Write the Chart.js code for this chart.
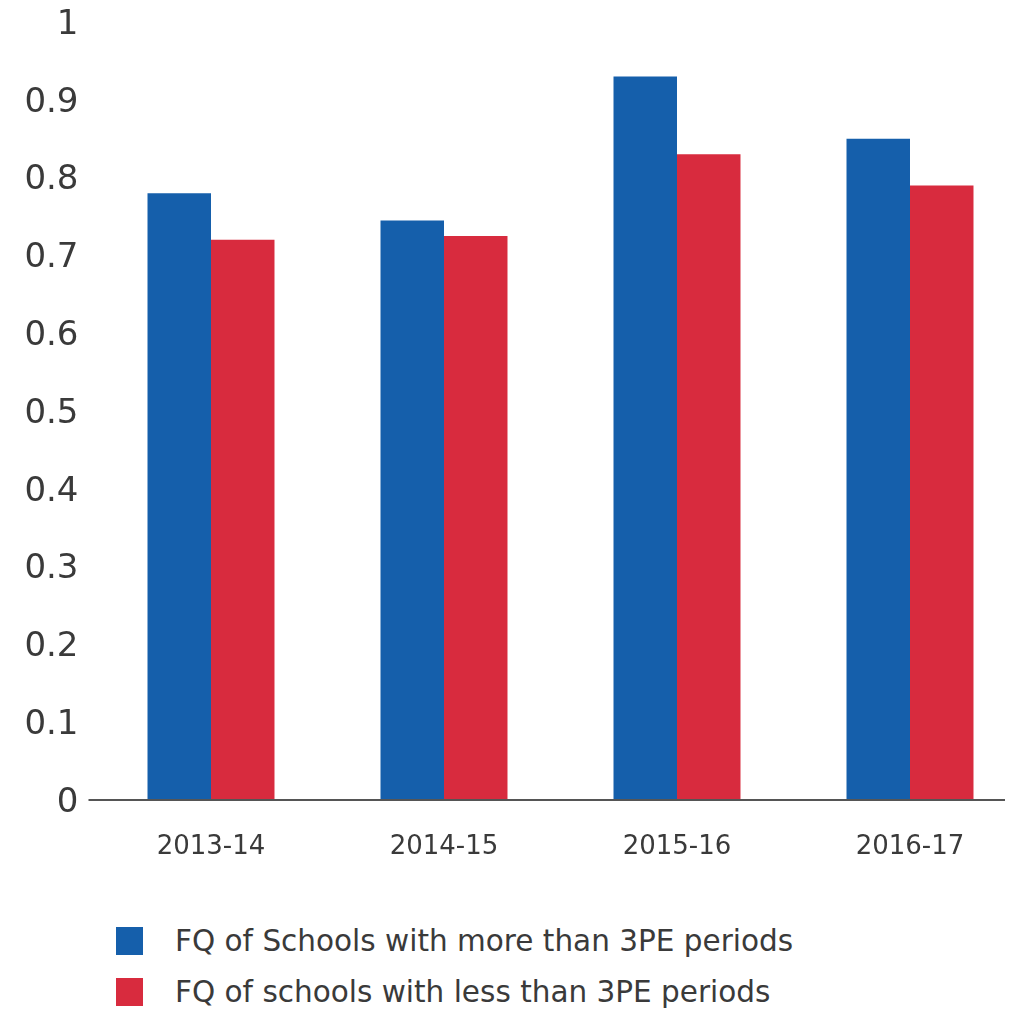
<!DOCTYPE html>
<html>
<head>
<meta charset="utf-8">
<script src="https://cdn.jsdelivr.net/npm/chart.js@4/dist/chart.umd.min.js"></script>
<style>
  html, body { margin: 0; padding: 0; background: #ffffff; overflow: hidden; width: 1010px; height: 1014px; }
  #wrap { position: relative; width: 1030px; height: 880px; }
  #legend { position: absolute; left: 116px; top: 915px; font-family: "DejaVu Sans", sans-serif; font-size: 29.5px; color: #3a3a3a; }
  .item { display: flex; align-items: center; height: 51.5px; white-space: nowrap; }
  .swatch { width: 27px; height: 28px; margin-right: 32px; flex: none; }
</style>
</head>
<body>
<div id="wrap"><canvas id="chart" width="1030" height="880"></canvas></div>
<div id="legend"></div>
<script>
// School years on the x axis
const categories = ['2013-14', '2014-15', '2015-16', '2016-17'];
// FQ values per year
const moreThan3PE = [0.78, 0.745, 0.93, 0.85];
const lessThan3PE = [0.72, 0.725, 0.83, 0.79];
// Series names and colours
const seriesNames = ['FQ of Schools with more than 3PE periods', 'FQ of schools with less than 3PE periods'];
const seriesColors = ['#155fab', '#d82b3e'];
// Y axis tick labels, bottom to top
const yTickLabels = ['0', '0.1', '0.2', '0.3', '0.4', '0.5', '0.6', '0.7', '0.8', '0.9', '1'];

const textColor = '#3a3a3a';

// Baseline drawn along the zero line, running a little past the y labels
const baseLine = {
  id: 'baseLine',
  afterDatasetsDraw(chart) {
    const y = chart.scales.y.getPixelForValue(0);
    const ctx = chart.ctx;
    ctx.save();
    ctx.strokeStyle = '#555555';
    ctx.lineWidth = 2;
    ctx.beginPath();
    ctx.moveTo(chart.chartArea.left - 6, y);
    ctx.lineTo(1005, y);
    ctx.stroke();
    ctx.restore();
  }
};

new Chart(document.getElementById('chart'), {
  type: 'bar',
  data: {
    labels: categories,
    datasets: [
      { label: seriesNames[0], data: moreThan3PE, backgroundColor: seriesColors[0] },
      { label: seriesNames[1], data: lessThan3PE, backgroundColor: seriesColors[1] }
    ]
  },
  options: {
    responsive: false,
    animation: false,
    layout: { padding: { top: 22, right: 3.5, left: 0, bottom: 0 } },
    datasets: { bar: { categoryPercentage: 0.545, barPercentage: 1.0 } },
    plugins: {
      legend: { display: false },
      tooltip: { enabled: false }
    },
    scales: {
      x: {
        grid: { display: false, drawTicks: false },
        border: { display: false },
        ticks: {
          color: textColor,
          padding: 32,
          font: { family: 'DejaVu Sans', size: 26 }
        },
        afterFit(scale) { scale.height = 80; }
      },
      y: {
        min: 0,
        max: 1,
        grid: { display: false, drawTicks: false },
        border: { display: false },
        ticks: {
          stepSize: 0.1,
          color: textColor,
          padding: 16,
          labelOffset: 3,
          font: { family: 'DejaVu Sans', size: 34 },
          callback: (value, index) => yTickLabels[index]
        },
        afterFit(scale) {
          scale.width = 94.5;
          scale.paddingTop = 0;
          scale.paddingBottom = 0;
        }
      }
    }
  },
  plugins: [baseLine]
});

// Legend below the chart
const legend = document.getElementById('legend');
seriesNames.forEach((name, i) => {
  const row = document.createElement('div');
  row.className = 'item';
  const sw = document.createElement('span');
  sw.className = 'swatch';
  sw.style.background = seriesColors[i];
  const txt = document.createElement('span');
  txt.textContent = name;
  row.appendChild(sw);
  row.appendChild(txt);
  legend.appendChild(row);
});
</script>
</body>
</html>
